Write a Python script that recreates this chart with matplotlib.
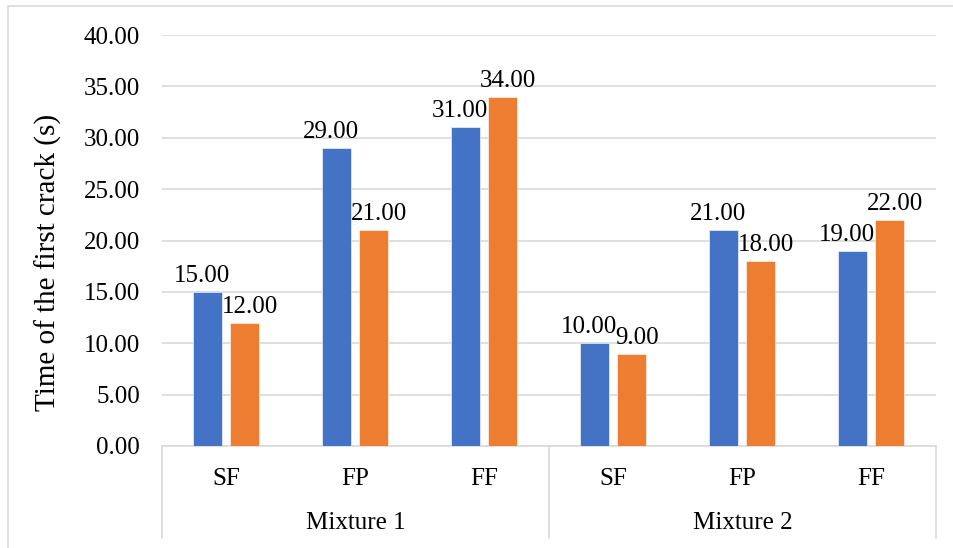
import matplotlib
matplotlib.use("Agg")
import matplotlib.pyplot as plt
import matplotlib.transforms as mtransforms
from matplotlib.patches import Rectangle

groups = ["Mixture 1", "Mixture 2"]
subcats = ["SF", "FP", "FF", "SF", "FP", "FF"]
series_a = [15, 29, 31, 10, 21, 19]
series_b = [12, 21, 34, 9, 18, 22]
yticks = [0, 5, 10, 15, 20, 25, 30, 35, 40]

plt.rcParams['font.family'] = ['Liberation Serif', 'DejaVu Serif']

W, H = 954, 548
fig = plt.figure(figsize=(W / 100, H / 100), dpi=100)
fig.patch.set_facecolor('white')

# outer chart border (right/bottom cut off in reference)
fig.add_artist(Rectangle((8 / W, -0.05), 1.2, (H - 6) / H + 0.05, transform=fig.transFigure,
                         fill=False, edgecolor='#D9D9D9', linewidth=1.2))

left, right, bottom, top = 162, 936, 446, 35
ax = fig.add_axes([left / W, (H - bottom) / H, (right - left) / W, (bottom - top) / H])

blue = '#4472C4'
orange = '#ED7D31'
n = len(subcats)
xs = list(range(n))
cat_w = (right - left) / n
bw = 29 / cat_w
off = (4 + 14.5) / cat_w

xa = [x - off for x in xs]
xb = [x + off for x in xs]
ax.bar(xa, series_a, width=bw, color=blue, edgecolor='#ffffff', linewidth=0.4, zorder=3)
ax.bar(xb, series_b, width=bw, color=orange, edgecolor='#ffffff', linewidth=0.4, zorder=3)

fs = 18
for x, v in zip(xa, series_a):
    ax.annotate(f"{v:.2f}", (x, v), xytext=(-6, 10), textcoords='offset pixels',
                ha='center', va='baseline', fontsize=fs, color='#000000', zorder=4)
for x, v in zip(xb, series_b):
    ax.annotate(f"{v:.2f}", (x, v), xytext=(5, 10), textcoords='offset pixels',
                ha='center', va='baseline', fontsize=fs, color='#000000', zorder=4)

ax.set_xlim(-0.5, n - 0.5)
ax.set_ylim(0, 40)
ax.set_yticks(yticks)
ax.set_yticklabels([f"{t:.2f}" for t in yticks], fontsize=fs)
ax.tick_params(axis='y', length=0, pad=16)
ax.yaxis.grid(True, color='#D9D9D9', linewidth=1.2, zorder=0)
ax.set_axisbelow(True)
for s in ['top', 'right', 'left']:
    ax.spines[s].set_visible(False)
ax.spines['bottom'].set_color('#D9D9D9')
ax.spines['bottom'].set_linewidth(1.2)

ax.set_xticks(xs)
ax.set_xticklabels(subcats, fontsize=fs)
ax.tick_params(axis='x', length=0, pad=16)

# group separators and labels
trans = mtransforms.blended_transform_factory(ax.transData, ax.transAxes)
sep_len = (538 - bottom) / (bottom - top)
for xsep in [-0.5, 2.5, 5.5]:
    ax.plot([xsep, xsep], [0, -sep_len], transform=trans, color='#D9D9D9',
            linewidth=1.2, clip_on=False)
grp_y = -(523 - bottom) / (bottom - top)
for i, g in enumerate(groups):
    ax.text(i * 3 + 1, grp_y, g, transform=trans, ha='center', va='center', fontsize=fs)

ax.set_ylabel("Time of the first crack (s)", fontsize=21)
ax.yaxis.set_label_coords(-(left - 48) / (right - left), (bottom - 262) / (bottom - top))
ax.yaxis.label.set_va('center')

fig.savefig("out.png", dpi=100, facecolor='white')
